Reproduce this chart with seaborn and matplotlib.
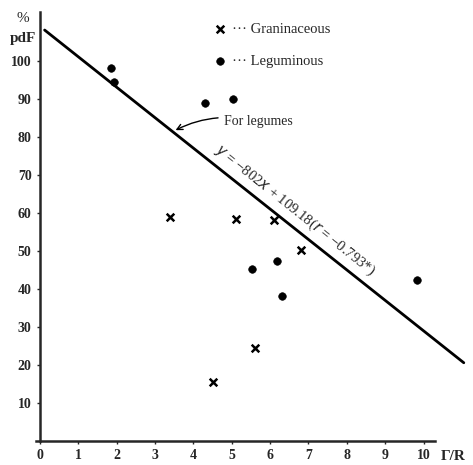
import matplotlib
matplotlib.use("Agg")
import matplotlib.pyplot as plt
import seaborn as sns
import pandas as pd

# values
gram_x = [3.4, 4.5, 5.1, 5.6, 6.1, 6.8]
gram_y = [59, 15.5, 58.5, 24.5, 58.3, 50.3]
leg_x = [1.85, 1.93, 4.3, 5.03, 5.52, 6.17, 6.3, 9.82]
leg_y = [98.3, 94.5, 89, 90, 45.3, 47.3, 38.3, 42.5]
fit_x = [0.12, 11.05]
fit_y = [108.2, 20.6]

x_ticks = list(range(0, 11))
y_ticks = list(range(10, 101, 10))

gram = pd.DataFrame({"x": gram_x, "y": gram_y})
leg = pd.DataFrame({"x": leg_x, "y": leg_y})
fit = pd.DataFrame({"x": fit_x, "y": fit_y})

sns.set_style("ticks")
plt.rcParams["font.family"] = ["Liberation Serif", "DejaVu Serif"]

fig = plt.figure(figsize=(4.73, 4.65), dpi=100)
ax = fig.add_axes([0.0846, 0.0516, 0.9, 0.923])

sns.lineplot(data=fit, x="x", y="y", color="black", linewidth=2, ax=ax)
sns.scatterplot(data=gram, x="x", y="y", marker="x", color="black", s=30,
                linewidth=1.8, label="\u00b7\u00b7\u00b7 Graninaceous", ax=ax)
sns.scatterplot(data=leg, x="x", y="y", marker="o", color="black", s=30,
                edgecolor="black", label="\u00b7\u00b7\u00b7 Leguminous", ax=ax)

ax.set_xlim(0, 11.1)
ax.set_ylim(0, 113)
ax.set_xticks(x_ticks)
ax.set_yticks(y_ticks)
ax.set_xticklabels([str(t) for t in x_ticks], fontweight="bold", fontsize=10)
ax.set_yticklabels([str(t) for t in y_ticks], fontweight="bold", fontsize=10)
ax.tick_params(length=2, width=1, pad=4)
ax.set_xlabel("")
ax.set_ylabel("")
for side in ["top", "right"]:
    ax.spines[side].set_visible(False)
ax.spines["left"].set_linewidth(1.8)
ax.spines["bottom"].set_linewidth(1.8)
ax.spines["bottom"].set_bounds(-0.1, 10.3)

ax.text(-0.04, 1.0, "%", transform=ax.transAxes, fontsize=11, ha="center", va="top")
ax.text(-0.04, 0.952, "pdF", transform=ax.transAxes, fontsize=11, ha="center", va="top", fontweight="bold")
ax.text(1.0, -0.035, "\u0393/R", transform=ax.transAxes, fontsize=11, ha="right", va="center", fontweight="bold")

ax.legend(loc="upper left", bbox_to_anchor=(0.375, 1.005), frameon=False,
          handletextpad=0.3, handlelength=1.0, labelspacing=1.3, fontsize=10.5)

ax.annotate("For legumes", xy=(3.47, 81.5), xytext=(4.8, 84), fontsize=10,
            va="center", arrowprops=dict(arrowstyle="->", color="black", lw=1,
                                         connectionstyle="arc3,rad=0.2"))

ax.text(4.45, 75.3, "$y$ = \u2212802$x$ + 109.18($r$ = \u22120.793*)", fontsize=10.5,
        rotation=-38.5, rotation_mode="anchor", ha="left", va="bottom")

fig.savefig("out.png", dpi=100)
